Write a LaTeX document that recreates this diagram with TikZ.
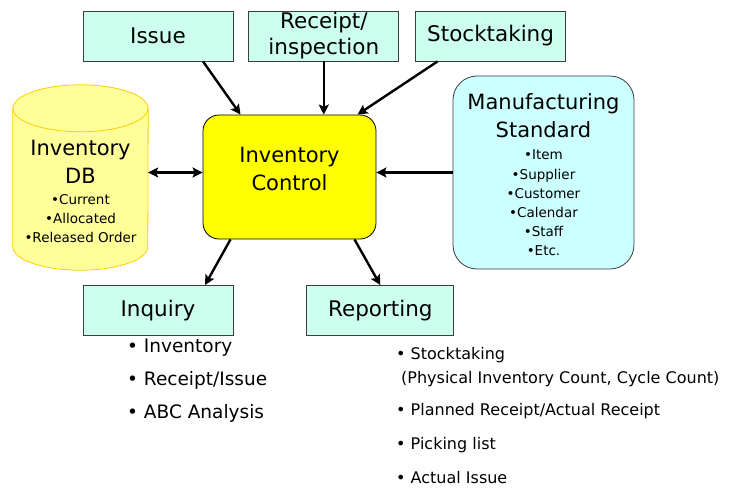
\documentclass[tikz,border=0pt]{standalone}
\usepackage{fontspec}
\setmainfont{DejaVu Sans}
\usetikzlibrary{positioning,arrows.meta}

\definecolor{mintfill}{RGB}{204,255,238}
\definecolor{cyanfill}{RGB}{204,255,255}
\definecolor{ctrlfill}{RGB}{255,255,0}
\definecolor{dbfill}{RGB}{255,255,153}
\definecolor{dbedge}{RGB}{255,204,0}
\definecolor{boxedge}{RGB}{60,60,60}

\begin{document}
\begin{tikzpicture}[
    x=1pt, y=-1pt,
    every node/.style={inner sep=0pt},
    module/.style={
        draw=boxedge,
        fill=mintfill,
        line width=0.8pt,
        minimum width=150pt,
        minimum height=50pt,
        align=center,
        font=\fontsize{21.5}{26}\selectfont
    },
    ctrlbox/.style={draw=black, fill=ctrlfill, line width=0.8pt,
        rounded corners=16pt, minimum width=173pt, minimum height=124pt},
    stdbox/.style={draw=boxedge, fill=cyanfill, line width=0.8pt,
        rounded corners=24pt, minimum width=181pt, minimum height=193pt},
    dbshape/.style={draw=dbedge, fill=dbfill, line width=0.8pt},
    title/.style={align=center, font=\fontsize{21}{28}\selectfont},
    sublist/.style={align=center, font=\fontsize{13.5}{19.2}\selectfont},
    inqitem/.style={anchor=west, font=\fontsize{18.5}{22}\selectfont},
    repitem/.style={anchor=west, font=\fontsize{16}{20}\selectfont},
    arrow/.style={-{Stealth[length=10pt,width=10pt,inset=2pt]}, line width=2.4pt},
    biarrow/.style={{Stealth[length=10pt,width=10pt,inset=2pt]}-{Stealth[length=10pt,width=10pt,inset=2pt]}, line width=2.4pt}
]
\useasboundingbox (0,0) rectangle (731,489);

% top row
\node[module] (issue) at (158,36) {Issue};
\node[module, right=15pt of issue] (receipt) {Receipt/\\inspection};
\node[module, right=16pt of receipt] (stock) {Stocktaking};

% centre
\node[ctrlbox] (ctrl) at (289.5,177) {};
\node[title] (ctrltext) at (289.5,169) {Inventory\\Control};

% inventory database
\node[minimum width=135pt, minimum height=185pt] (db) at (80.5,177.5) {};
\filldraw[dbshape] ([yshift=-23.5pt]db.north west) -- ([yshift=23.5pt]db.south west)
    arc[start angle=180, end angle=0, x radius=67.5, y radius=23.5]
    -- ([yshift=-23.5pt]db.north east) -- cycle;
\filldraw[dbshape] ([yshift=-23.5pt]db.north) ellipse[x radius=67.5, y radius=23.5];
\node[title] (dbtitle) at (80.5,162) {Inventory\\DB};
\node[sublist] (dblist) at (80.5,218.5) {•Current\\•Allocated\\•Released Order};

% manufacturing standard
\node[stdbox] (manuf) at (543.5,172.5) {};
\node[title] (manuftitle) at (543.5,116) {Manufacturing\\Standard};
\node[sublist] (manuflist) at (543.5,203)
    {•Item\\•Supplier\\•Customer\\•Calendar\\•Staff\\•Etc.};

% bottom row
\node[module] (inquiry) at (158,310.5) {Inquiry};
\node[module, minimum width=147pt, right=73pt of inquiry] (reporting) {Reporting};

\node[inqitem] (inqa) at (127,348) {• Inventory};
\node[inqitem] (inqb) at (127,380) {• Receipt/Issue};
\node[inqitem] (inqc) at (127,413) {• ABC Analysis};

\node[repitem] (repa) at (396,355) {• Stocktaking};
\node[repitem] (repb) at (401,379) {(Physical Inventory Count, Cycle Count)};
\node[repitem] (repc) at (396,411) {• Planned Receipt/Actual Receipt};
\node[repitem] (repd) at (396,445) {• Picking list};
\node[repitem] (repe) at (396,478) {• Actual Issue};

% connectors
\draw[arrow] ([xshift=45pt]issue.south) -- ([xshift=-49pt]ctrl.north);
\draw[arrow] (receipt.south) -- (receipt.south |- ctrl.north);
\draw[arrow] ([xshift=-53pt]stock.south) -- ([xshift=68pt]ctrl.north);
\draw[biarrow] (db.east |- manuf.west) -- (ctrl.west |- manuf.west);
\draw[arrow] (manuf.west) -- (manuf.west -| ctrl.east);
\draw[arrow] ([xshift=-59pt]ctrl.south) -- ([xshift=47pt]inquiry.north);
\draw[arrow] ([xshift=65pt]ctrl.south) -- (reporting.north);

\end{tikzpicture}
\end{document}
